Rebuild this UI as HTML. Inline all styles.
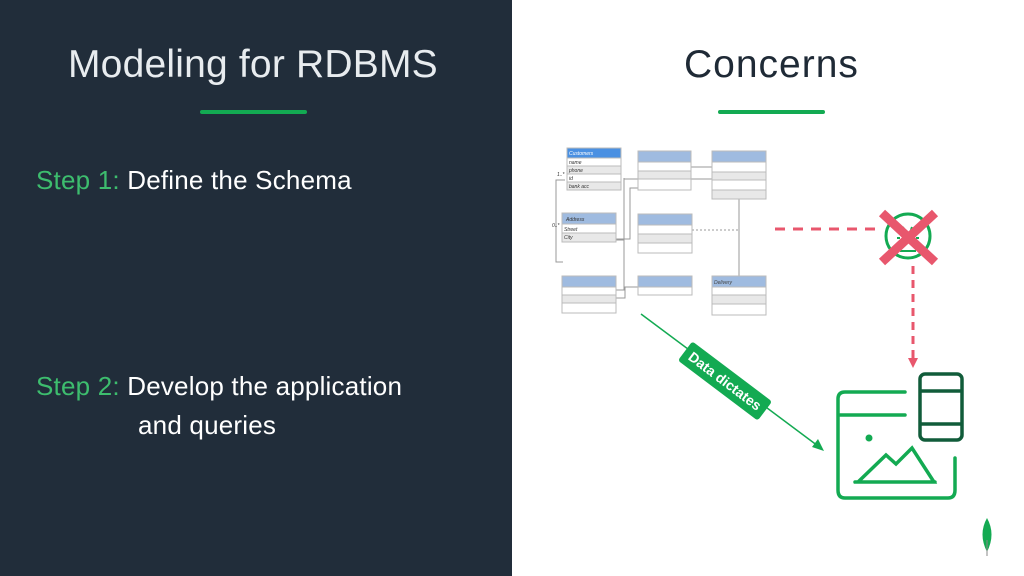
<!DOCTYPE html><html><head><style>
body{margin:0;width:1024px;height:576px;overflow:hidden;background:#fff;font-family:"Liberation Sans",sans-serif;position:relative}
.l{position:absolute;left:0;top:0;width:512px;height:576px;background:#212d3a}
.t{position:absolute;font-size:39px;font-weight:300;letter-spacing:0.2px}
.bar{position:absolute;top:110px;height:4px;background:#13aa52;width:107px;border-radius:2px}
.s{position:absolute;color:#fff;font-size:26px;letter-spacing:0.2px}
.s b{color:#3dbd6e;font-weight:normal}
</style></head><body>
<div class="l"></div>
<div class="t" style="left:68px;top:43px;color:#e8ecef">Modeling for RDBMS</div>
<div class="bar" style="left:200px"></div>
<div class="t" style="left:684px;top:43px;color:#1f2a36;letter-spacing:1px">Concerns</div>
<div class="bar" style="left:718px"></div>
<div class="s" style="left:36px;top:165px"><b>Step 1:</b> Define the Schema</div>
<div class="s" style="left:36px;top:371px"><b>Step 2:</b> Develop the application</div>
<div class="s" style="left:138px;top:410px">and queries</div>
<svg width="1024" height="576" style="position:absolute;left:0;top:0">
<g fill="none" stroke="#999" stroke-width="1">
<path d="M565 180H556V262H563"/><path d="M691 167H712"/><path d="M616 239H630V188H638"/><path d="M616 240H624V179H708H712"/>
<path d="M739 199V276"/><path d="M616 290H624V178"/><path d="M616 298H625V287H638"/>
<path d="M692 230H738" stroke-dasharray="2 2"/>
</g>
<g stroke="#bbb" stroke-width="1">
<rect x="567" y="148" width="54" height="42" fill="#fff"/><rect x="567" y="148" width="54" height="10" fill="#4a90e2"/>
<rect x="567" y="166" width="54" height="8" fill="#e8e8e8"/><rect x="567" y="182" width="54" height="8" fill="#e8e8e8"/>
<rect x="638" y="151" width="53" height="39" fill="#fff"/><rect x="638" y="151" width="53" height="11" fill="#9fbbe0"/><rect x="638" y="171" width="53" height="8" fill="#e8e8e8"/>
<rect x="712" y="151" width="54" height="48" fill="#fff"/><rect x="712" y="151" width="54" height="11" fill="#9fbbe0"/><rect x="712" y="172" width="54" height="8" fill="#e8e8e8"/><rect x="712" y="190" width="54" height="9" fill="#e8e8e8"/>
<rect x="562" y="213" width="54" height="29" fill="#fff"/><rect x="562" y="213" width="54" height="11" fill="#9fbbe0"/><rect x="562" y="233" width="54" height="9" fill="#e8e8e8"/>
<rect x="638" y="214" width="54" height="39" fill="#fff"/><rect x="638" y="214" width="54" height="11" fill="#9fbbe0"/><rect x="638" y="234" width="54" height="9" fill="#e8e8e8"/>
<rect x="562" y="276" width="54" height="37" fill="#fff"/><rect x="562" y="276" width="54" height="11" fill="#9fbbe0"/><rect x="562" y="295" width="54" height="8" fill="#e8e8e8"/>
<rect x="638" y="276" width="54" height="19" fill="#fff"/><rect x="638" y="276" width="54" height="11" fill="#9fbbe0"/>
<rect x="712" y="276" width="54" height="39" fill="#fff"/><rect x="712" y="276" width="54" height="11" fill="#9fbbe0"/><rect x="712" y="295" width="54" height="9" fill="#e8e8e8"/>
</g>
<g font-size="5" fill="#333" font-style="italic"><text x="569" y="155" fill="#fff">Customers</text><text x="569" y="164">name</text><text x="569" y="172">phone</text><text x="569" y="180">id</text><text x="569" y="188">bank acc</text>
<text x="566" y="221">Address</text><text x="564" y="231">Street</text><text x="564" y="239">City</text><text x="714" y="284" fill="#444">Delivery</text><text x="557" y="176">1..*</text><text x="552" y="227">0..*</text></g>
<path d="M775 229H880" stroke="#e8576d" stroke-width="3" stroke-dasharray="10 8"/>
<circle cx="908" cy="236" r="22" fill="#fff" stroke="#13aa52" stroke-width="3"/>
<path d="M900 251H916M897 238h3M916 238h3M903 227l1 3M912 227l-1 3" stroke="#13aa52" stroke-width="2"/>
<path d="M882 213L935 262M935 213L882 262" stroke="#e8576d" stroke-width="9"/>
<path d="M913 266V358" stroke="#e8576d" stroke-width="3" stroke-dasharray="8 6"/>
<path d="M908 358L913 368L918 358Z" fill="#e8576d"/>
<path d="M641 314L818 446" stroke="#13aa52" stroke-width="1.5"/><path d="M824 451L812 447L818 439Z" fill="#13aa52"/>
<g transform="translate(725,381) rotate(37)"><rect x="-50" y="-12" width="100" height="24" rx="3" fill="#13aa52"/><text x="0" y="5" fill="#fff" font-size="14" font-weight="bold" text-anchor="middle">Data dictates</text></g>
<g fill="none" stroke="#13aa52" stroke-width="3.5" stroke-linecap="round">
<path d="M905 392H845Q838 392 838 399V490Q838 498 845 498H948Q955 498 955 490V458"/><path d="M840 415H905"/>
<path d="M858 482L886 455L896 464L912 448L934 482Z M855 482H935"/></g>
<circle cx="869" cy="438" r="3.5" fill="#13aa52"/>
<g fill="none" stroke="#115c3a" stroke-width="3.5"><rect x="920" y="374" width="42" height="66" rx="5"/><path d="M920 391H962M920 424H962"/></g>
<path d="M987 518Q978 534 987 552Q996 534 987 518Z" fill="#13aa52"/><path d="M987 540V556" stroke="#888" stroke-width="1"/>
</svg>
</body></html>
